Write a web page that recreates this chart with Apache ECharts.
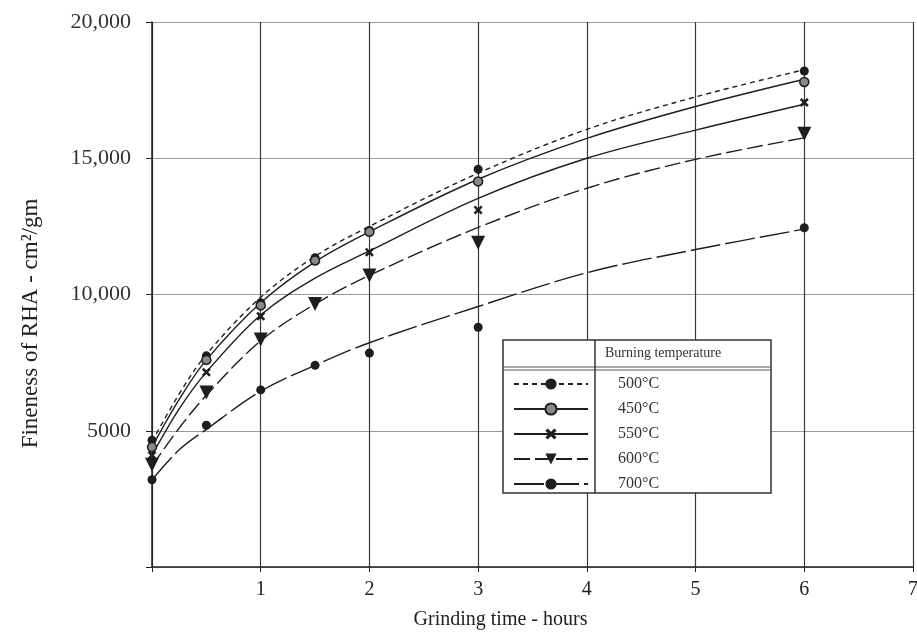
<!DOCTYPE html>
<html>
<head>
<meta charset="utf-8">
<script src="https://cdn.jsdelivr.net/npm/echarts@6/dist/echarts.min.js"></script>
<style>
  html, body { margin: 0; padding: 0; background: #fff; }
  #chart { width: 917px; height: 635px; }
</style>
</head>
<body>
<div id="chart"></div>
<script>
// Burning temperatures (legend order)
const temps = ['500°C', '450°C', '550°C', '600°C', '700°C'];

// Measured points, [hours, fineness]
const pts500 = [[0, 4650], [0.5, 7750], [1, 9700], [1.5, 11350], [2, 12350], [3, 14600], [6, 18200]];
const pts450 = [[0, 4400], [0.5, 7600], [1, 9600], [1.5, 11250], [2, 12300], [3, 14150], [6, 17800]];
const pts550 = [[0, 4100], [0.5, 7150], [1, 9200], [2, 11550], [3, 13100], [6, 17050]];
const pts600 = [[0, 3750], [0.5, 6400], [1, 8350], [1.5, 9650], [2, 10700], [3, 11900], [6, 15900]];
const pts700 = [[0, 3200], [0.5, 5200], [1, 6500], [1.5, 7400], [2, 7850], [3, 8800], [6, 12450]];

// Fitted curves
const curveX = [0, 0.25, 0.5, 1, 1.5, 2, 3, 4, 5, 6];
const curve500 = [4600, 6350, 7800, 9900, 11400, 12500, 14450, 16060, 17250, 18250];
const curve450 = [4400, 6150, 7600, 9700, 11200, 12300, 14230, 15730, 16900, 17900];
const curve550 = [4100, 5800, 7150, 9250, 10600, 11600, 13530, 15000, 16030, 16980];
const curve600 = [3700, 5100, 6300, 8300, 9650, 10700, 12460, 13900, 14960, 15750];
const curve700 = [3200, 4300, 5050, 6450, 7400, 8230, 9560, 10800, 11650, 12400];

const yTicks = { 5000: '5000', 10000: '10,000', 15000: '15,000', 20000: '20,000' };

const ink = '#1e1e1e';
const font = 'Liberation Serif';
const xMark = 'path://M2,0 L5,3 L8,0 L10,2 L7,5 L10,8 L8,10 L5,7 L2,10 L0,8 L3,5 L0,2 Z';
const triDown = 'path://M0,0 L10,0 L5,9 Z';

const styles = [
  { symbol: 'circle', dash: [5, 4], fill: ink, size: 9 },
  { symbol: 'circle', dash: 'solid', fill: '#8a8a8a', size: 9 },
  { symbol: xMark, dash: 'solid', fill: ink, size: 9 },
  { symbol: triDown, dash: [16, 5], fill: ink, size: 14 },
  { symbol: 'circle', dash: [30, 5], fill: ink, size: 9 }
];
const curves = [curve500, curve450, curve550, curve600, curve700];
const points = [pts500, pts450, pts550, pts600, pts700];

const series = [];
temps.forEach((t, i) => {
  const st = styles[i];
  series.push({
    name: t,
    type: 'line',
    smooth: 0.35,
    showSymbol: false,
    symbol: st.symbol,
    symbolSize: st.size,
    itemStyle: { color: st.fill, borderColor: ink, borderWidth: i === 1 ? 1.5 : 0 },
    lineStyle: { color: ink, width: 1.4, type: st.dash },
    data: curveX.map((x, k) => [x, curves[i][k]]),
    z: 3
  });
  series.push({
    name: t + ' data',
    type: 'scatter',
    symbol: st.symbol,
    symbolSize: st.size,
    itemStyle: { color: st.fill, borderColor: ink, borderWidth: i === 1 ? 1.5 : 0, opacity: 1 },
    data: points[i],
    z: 4
  });
});

const chart = echarts.init(document.getElementById('chart'));
chart.setOption({
  animation: false,
  grid: { left: 152, right: 4, top: 22, bottom: 68, outerBoundsMode: 'none' },
  xAxis: {
    type: 'value', min: 0, max: 7, interval: 1,
    name: 'Grinding time - hours',
    nameLocation: 'middle', nameGap: 43,
    nameTextStyle: { fontFamily: font, fontSize: 20, color: '#222', padding: [0, 64, 0, 0] },
    axisLine: { show: true, lineStyle: { color: '#222', width: 1.5 } },
    axisTick: { show: true, inside: false, length: 5, lineStyle: { color: '#222' } },
    axisLabel: {
      fontFamily: font, fontSize: 20, color: '#222', margin: 13,
      formatter: v => (v === 0 ? '' : String(v))
    },
    splitLine: { show: true, lineStyle: { color: '#3a3a3a', width: 1.2 } }
  },
  yAxis: {
    type: 'value', min: 0, max: 20000, interval: 5000,
    name: 'Fineness of RHA - cm²/gm',
    nameLocation: 'middle', nameGap: 110,
    nameTextStyle: { fontFamily: font, fontSize: 23, color: '#222', padding: [0, 58, 0, 0] },
    axisLine: { show: true, lineStyle: { color: '#222', width: 1.5 } },
    axisTick: { show: true, length: 6, lineStyle: { color: '#222' } },
    axisLabel: {
      fontFamily: font, fontSize: 22, color: '#333', margin: 21,
      formatter: v => yTicks[v] || ''
    },
    splitLine: { show: true, lineStyle: { color: '#999', width: 1.2 } }
  },
  legend: {
    data: temps,
    orient: 'vertical',
    left: 513, top: 376,
    padding: 0,
    itemWidth: 74, itemHeight: 14, itemGap: 9,
    textStyle: { fontFamily: font, fontSize: 16, color: '#333', lineHeight: 14, padding: [0, 0, 0, 25] },
    selectedMode: false,
    z: 6
  },
  graphic: [
    { type: 'rect', z: 5, shape: { x: 503, y: 340, width: 268, height: 153 },
      style: { fill: '#fff', stroke: '#333', lineWidth: 1.5 } },
    { type: 'line', z: 5, shape: { x1: 503, y1: 367, x2: 771, y2: 367 }, style: { stroke: '#555', lineWidth: 1 } },
    { type: 'line', z: 5, shape: { x1: 503, y1: 370, x2: 771, y2: 370 }, style: { stroke: '#555', lineWidth: 1 } },
    { type: 'line', z: 5, shape: { x1: 595, y1: 340, x2: 595, y2: 493 }, style: { stroke: '#333', lineWidth: 1.5 } },
    { type: 'text', z: 6, left: 605, top: 346,
      style: { text: 'Burning temperature', fontFamily: font, fontSize: 14, fill: '#333' } }
  ],
  series: series
});
</script>
</body>
</html>
